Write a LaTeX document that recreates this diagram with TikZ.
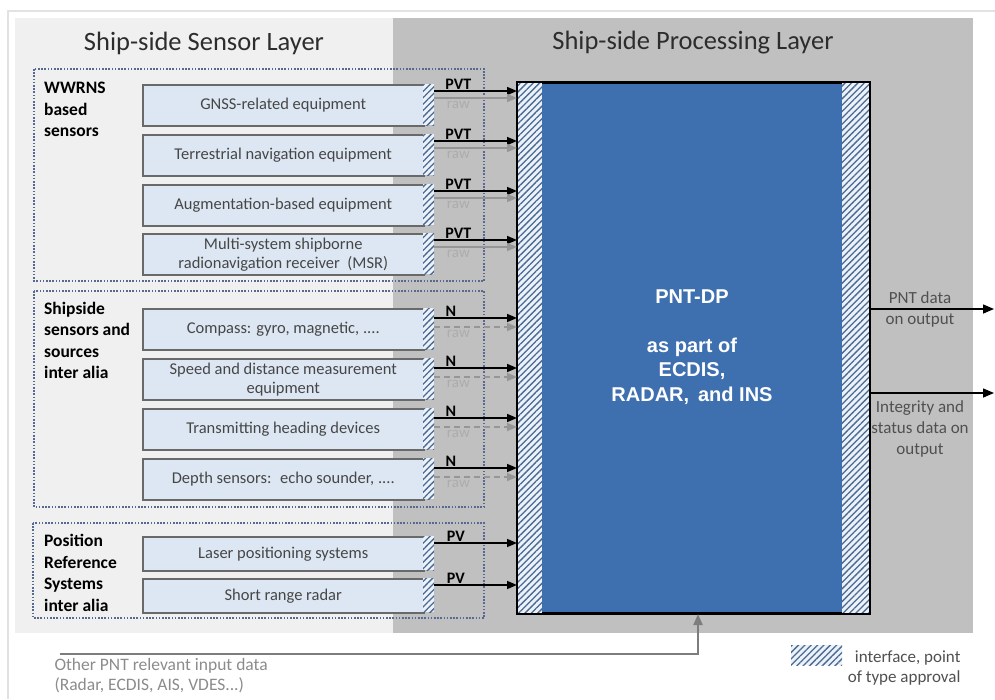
\documentclass[tikz,border=0pt]{standalone}
\usepackage{fontspec}
\setmainfont{Carlito}
\newfontfamily\arialfont{Liberation Sans}
\usetikzlibrary{patterns.meta,arrows.meta,calc}

\definecolor{lightpanel}{RGB}{240,240,240}
\definecolor{darkpanel}{RGB}{192,192,192}
\definecolor{framegray}{RGB}{226,226,226}
\definecolor{sensorfill}{RGB}{221,231,243}
\definecolor{sensorline}{RGB}{105,105,105}
\definecolor{groupline}{RGB}{85,105,145}
\definecolor{pntblue}{RGB}{62,112,176}
\definecolor{hatchline}{RGB}{75,105,145}
\definecolor{hatchbg}{RGB}{235,242,250}
\definecolor{textgray}{RGB}{70,70,70}
\definecolor{titlegray}{RGB}{45,45,45}
\definecolor{rawgray}{RGB}{150,150,150}
\definecolor{rawtext}{RGB}{172,172,172}
\definecolor{inputgray}{RGB}{125,125,125}
\definecolor{inputtext}{RGB}{140,140,140}
\definecolor{outtext}{RGB}{80,80,80}

\begin{document}
\begin{tikzpicture}[x=1pt,y=-1pt,
  hatch/.style={fill=hatchbg, postaction={pattern={Lines[angle=45,distance=4.5pt,line width=1.3pt]}, pattern color=hatchline}},
  sensorbox/.style={rectangle, draw=sensorline, line width=1.5pt, fill=sensorfill, text=textgray,
    font=\fontsize{16.5}{19}\selectfont, align=center, minimum width=281pt, minimum height=41pt,
    anchor=north west, inner sep=0pt},
  hatchbox/.style={rectangle, hatch, minimum width=11pt, minimum height=41pt, anchor=north west, inner sep=0pt},
  groupbox/.style={draw=groupline, line width=1.6pt, dash pattern=on 1.6pt off 1.6pt},
  grouplabel/.style={anchor=north west, align=left, font=\bfseries\fontsize{17.5}{21.5}\selectfont, text=black, inner sep=0pt},
  titlelabel/.style={font=\fontsize{26.5}{28}\selectfont, text=titlegray},
  pvtarr/.style={draw=black, line width=1.6pt, -{Triangle[length=10pt,width=8pt]}},
  rawarr/.style={draw=rawgray, line width=1.6pt, -{Triangle[length=10pt,width=8pt]}},
  rawdash/.style={rawarr, dash pattern=on 6pt off 4pt},
  datalbl/.style={font=\bfseries\fontsize{16}{16}\selectfont, inner sep=0.5pt, above, text=black},
  rawlbl/.style={font=\fontsize{15}{15}\selectfont, inner sep=1pt, below, yshift=-1.5pt, text=rawtext},
  outarr/.style={draw=black, line width=1.5pt, -{Triangle[length=11pt,width=9pt]}},
  outlbl/.style={font=\fontsize{17}{21}\selectfont, text=outtext, align=center},
  inarr/.style={draw=inputgray, line width=2pt, -{Triangle[length=11pt,width=9pt]}}
]
\useasboundingbox (0,0) rectangle (995,699);
\fill[white] (0,0) rectangle (995,699);
% outer frame
\draw[framegray, line width=1.5pt] (8,699) -- (8,11) -- (995,11);
% panels
\fill[lightpanel] (15,18) rectangle (393,633);
\fill[darkpanel] (393,18) rectangle (973,633);
\node[titlelabel] (t1) at (204,43) {Ship-side Sensor Layer};
\node[titlelabel] (t2) at (693,43) {Ship-side Processing Layer};

% group boxes
\draw[groupbox] (34,69) rectangle (484,281);
\draw[groupbox] (34,291) rectangle (484,507);
\draw[groupbox] (33,523) rectangle (484,618);
\node[grouplabel] (g1) at (44,82) {WWRNS\\based\\sensors};
\node[grouplabel] (g2) at (44,302) {Shipside\\sensors and\\sources\\inter alia};
\node[grouplabel] (g3) at (44,534) {Position\\Reference\\Systems\\inter alia};

% PNT-DP box
\node[rectangle, draw=black, line width=2pt, fill=pntblue, minimum width=351pt, minimum height=530pt,
  anchor=north west, inner sep=0pt] (pnt) at (517,82) {};
\path[hatch] (pnt.north west) rectangle ([xshift=25pt]pnt.south west);
\path[hatch] ([xshift=-28pt]pnt.north east) rectangle (pnt.south east);
\draw[black, line width=2pt] (pnt.north west) rectangle (pnt.south east);
\node[font=\arialfont\bfseries\fontsize{20}{24.5}\selectfont, text=white, align=center] (pnttext) at (692,347)
  {PNT-DP\\[24.5pt]as part of\\ECDIS,\\RADAR,\, and INS};

% group 1 sensors
\node[sensorbox] (s1) at (142,84) {GNSS-related equipment};
\node[sensorbox] (s2) at (142,134) {Terrestrial navigation equipment};
\node[sensorbox] (s3) at (142,184) {Augmentation-based equipment};
\node[sensorbox] (s4) at (142,233) {Multi-system shipborne\\radionavigation receiver~ (MSR)};
\foreach \n/\y in {1/84,2/134,3/184,4/233}{
  \node[hatchbox] (h\n) at (423,\y) {};
  \draw[pvtarr] ([yshift=-7pt]h\n.north east) -- ([yshift=-7pt]h\n.north east -| pnt.west)
     node[datalbl, pos=0.29] {PVT};
  \draw[rawarr] ([yshift=-14pt]h\n.north east) -- ([yshift=-14pt]h\n.north east -| pnt.west)
     node[rawlbl, pos=0.29] {raw};
}

% group 2 sensors
\node[sensorbox] (s5) at (142,308) {Compass: gyro, magnetic, ....};
\node[sensorbox] (s6) at (142,358) {Speed and distance measurement\\equipment};
\node[sensorbox] (s7) at (142,408) {Transmitting heading devices};
\node[sensorbox] (s8) at (142,458) {Depth sensors:~ echo sounder, ....};
\foreach \n/\y in {5/308,6/358,7/408,8/458}{
  \node[hatchbox] (h\n) at (423,\y) {};
  \draw[pvtarr] ([yshift=-10pt]h\n.north east) -- ([yshift=-10pt]h\n.north east -| pnt.west)
     node[datalbl, pos=0.2] {N};
  \draw[rawdash] ([yshift=-19pt]h\n.north east) -- ([yshift=-19pt]h\n.north east -| pnt.west)
     node[rawlbl, pos=0.29] {raw};
}

% group 3 sensors
\node[sensorbox, minimum height=34pt] (s9) at (142,536) {Laser positioning systems};
\node[sensorbox, minimum height=34pt] (s10) at (142,578) {Short range radar};
\foreach \n/\y in {9/536,10/578}{
  \node[hatchbox, minimum height=34pt] (h\n) at (423,\y) {};
  \draw[pvtarr] ([yshift=-7pt]h\n.north east) -- ([yshift=-7pt]h\n.north east -| pnt.west)
     node[datalbl, pos=0.26] {PV};
}

% outputs
\coordinate (o1) at (994,309);
\coordinate (o2) at (994,393);
\draw[outarr] (pnt.east |- o1) -- (o1);
\draw[outarr] (pnt.east |- o2) -- (o2);
\node[outlbl] (ol1) at (920,309) {PNT data\\on output};
\node[outlbl] (ol2) at (920,429) {Integrity and\\status data on\\output};

% other input
\coordinate (inS) at (60,654);
\draw[inarr] (inS) -| ([xshift=4.5pt]pnt.south);
\node[anchor=west, align=left, font=\fontsize{17.5}{20}\selectfont, text=inputtext] (intext) at (51,676)
  {Other PNT relevant input data\\(Radar, ECDIS, AIS, VDES...)};

% legend
\path[hatch] (791,645) rectangle (842,665);
\node[rectangle, minimum width=51pt, minimum height=20pt, inner sep=0pt] (legsw) at (816.5,655) {};
\node[anchor=east, align=right, font=\fontsize{17}{20}\selectfont, text=outtext] (legtext) at (964,668)
  {interface, point\\of type approval};
\end{tikzpicture}
\end{document}
